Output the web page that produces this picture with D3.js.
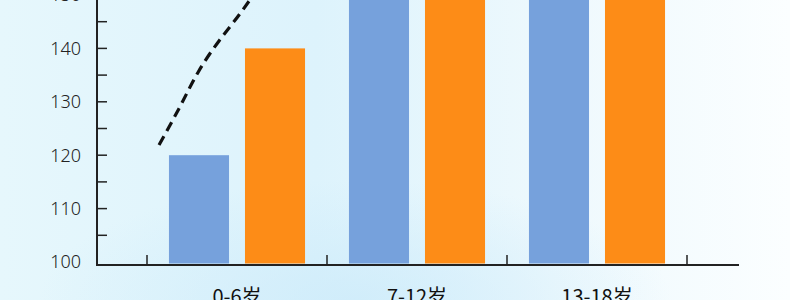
<!DOCTYPE html>
<html>
<head>
<meta charset="utf-8">
<script src="https://cdn.jsdelivr.net/npm/d3@7"></script>
<style>
  body { margin: 0; }
  svg { display: block; }
</style>
</head>
<body>
<svg id="chart" width="790" height="300"></svg>
<script>
// data
const ageGroups = ["0-6岁", "7-12岁", "13-18岁"];
const seriesA = [120, 156, 166];   // blue bars
const seriesB = [140, 164, 174];   // orange bars
const yTicks = [100, 110, 120, 130, 140, 150];
// dashed growth curve: [age, value]
const trendAge = [0.4, 1.1, 1.7, 2.4, 3.1, 3.7, 4.4];
const trendVal = [121.9, 129.1, 135.5, 141.4, 146.5, 151.0, 154.7];

const width = 790, height = 300;
const svg = d3.select("#chart");

// background
let defs = svg.append("defs");
let bg = defs.append("linearGradient")
    .attr("id", "bg")
    .attr("x1", "0%").attr("y1", "0%")
    .attr("x2", "100%").attr("y2", "0%");
bg.append("stop").attr("offset", "0%").attr("stop-color", "#e6f7fc");
bg.append("stop").attr("offset", "40%").attr("stop-color", "#ddf3fc");
bg.append("stop").attr("offset", "70%").attr("stop-color", "#eef9fd");
bg.append("stop").attr("offset", "100%").attr("stop-color", "#fbfeff");

let glow = defs.append("radialGradient")
    .attr("id", "glow")
    .attr("cx", "45%").attr("cy", "100%").attr("r", "40%");
glow.append("stop").attr("offset", "0%").attr("stop-color", "#cdebfa").attr("stop-opacity", 0.8);
glow.append("stop").attr("offset", "100%").attr("stop-color", "#cdebfa").attr("stop-opacity", 0);

svg.append("rect").attr("width", width).attr("height", height).attr("fill", "url(#bg)");
svg.append("rect").attr("width", width).attr("height", height).attr("fill", "url(#glow)");

// scales
let y = d3.scaleLinear()
          .domain([100, 150])
          .range([262, -5]);

let x0 = d3.scaleBand()
           .domain(ageGroups)
           .range([147, 687])
           .paddingInner(0.244)
           .paddingOuter(0.122);

let x1 = d3.scaleBand()
           .domain(["a", "b"])
           .range([0, x0.bandwidth()])
           .paddingInner(0.21);

let ageX = d3.scaleLinear()
             .domain([0, 18])
             .range([147, 687]);

const axisX = 97, axisEnd = 739, baseY = y(100) + 3;
const colors = { a: "#76a1dc", b: "#fd8c17" };

// bars
let groups = svg.selectAll("g.grp")
    .data(ageGroups.map((c, i) => ({ cat: c, a: seriesA[i], b: seriesB[i] })))
    .enter()
    .append("g")
    .attr("class", "grp")
    .attr("transform", d => `translate(${x0(d.cat)},0)`);

groups.selectAll("rect")
    .data(d => ["a", "b"].map(k => ({ key: k, value: d[k] })))
    .enter()
    .append("rect")
    .attr("x", d => x1(d.key))
    .attr("y", d => y(d.value))
    .attr("width", x1.bandwidth())
    .attr("height", d => y(100) + 1.5 - y(d.value))
    .style("fill", d => colors[d.key]);

// dashed curve
let trend = trendAge.map((a, i) => [a, trendVal[i]]);
svg.append("path")
   .datum(trend)
   .attr("fill", "none")
   .attr("stroke", "#111")
   .attr("stroke-width", 3.2)
   .attr("stroke-dasharray", "10,6")
   .attr("d", d3.line()
       .x(d => ageX(d[0]))
       .y(d => y(d[1]))
       .curve(d3.curveNatural));

// y axis
svg.append("line")
   .attr("x1", axisX).attr("x2", axisX)
   .attr("y1", -10).attr("y2", baseY + 1)
   .attr("stroke", "#222").attr("stroke-width", 2);

let minor = d3.range(105, 150, 10);
svg.selectAll("line.ytick")
   .data(yTicks.slice(1).concat(minor))
   .enter()
   .append("line")
   .attr("class", "ytick")
   .attr("x1", axisX).attr("x2", axisX + 10)
   .attr("y1", d => y(d)).attr("y2", d => y(d))
   .attr("stroke", "#222").attr("stroke-width", 1.5);

svg.selectAll("text.ylab")
   .data(yTicks)
   .enter()
   .append("text")
   .attr("class", "ylab")
   .attr("x", 81)
   .attr("y", d => y(d))
   .attr("dy", "0.36em")
   .attr("text-anchor", "end")
   .style("font-family", "'Noto Sans', 'Noto Sans CJK SC', sans-serif")
   .style("font-size", "18px")
   .style("font-weight", 300)
   .style("fill", "#222")
   .text(d => d);

// x axis
svg.append("line")
   .attr("x1", axisX - 1).attr("x2", axisEnd)
   .attr("y1", baseY).attr("y2", baseY)
   .attr("stroke", "#222").attr("stroke-width", 2);

let half = x0.step() * x0.paddingInner() / 2;
let xTickPos = ageGroups.map(c => x0(c) - half).concat([x0(ageGroups[2]) + x0.bandwidth() + half]);
svg.selectAll("line.xtick")
   .data(xTickPos)
   .enter()
   .append("line")
   .attr("class", "xtick")
   .attr("x1", d => d).attr("x2", d => d)
   .attr("y1", baseY).attr("y2", baseY - 10)
   .attr("stroke", "#222").attr("stroke-width", 1.5);

svg.selectAll("text.xlab")
   .data(ageGroups)
   .enter()
   .append("text")
   .attr("class", "xlab")
   .attr("x", d => x0(d) + x0.bandwidth() / 2)
   .attr("y", 304)
   .attr("text-anchor", "middle")
   .style("font-family", "'Noto Sans CJK SC', 'Noto Sans', sans-serif")
   .style("font-size", "20px")
   .style("fill", "#111")
   .text(d => d);
</script>
</body>
</html>
